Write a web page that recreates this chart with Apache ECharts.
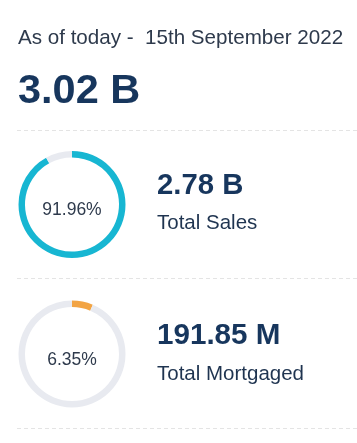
<!DOCTYPE html>
<html>
<head>
<meta charset="utf-8">
<script src="https://cdn.jsdelivr.net/npm/echarts@6/dist/echarts.min.js"></script>
<style>
html,body{margin:0;padding:0;background:#fff;}
#c{width:357px;height:443px;}
</style>
</head>
<body>
<div id="c"></div>
<script>
const headerText = "As of today -  15th September 2022";
const totalText = "3.02 B";
const itemLabels = ["Total Sales", "Total Mortgaged"];
const itemAmounts = ["2.78 B", "191.85 M"];
const itemPercents = [91.96, 6.35];
const itemColors = ["#17b6d2", "#f2a444"];
const trackColor = "#e8eaf0";

const FONT = '"Liberation Sans", Arial, sans-serif';
const rowTop = [204.5, 354];
const series = itemPercents.map((p, i) => ({
  type: 'pie',
  silent: true,
  radius: [47, 53.5],
  center: [72, rowTop[i]],
  startAngle: 90,
  clockwise: true,
  label: { show: false },
  labelLine: { show: false },
  emphasis: { disabled: true },
  data: [
    { value: p, itemStyle: { color: itemColors[i] } },
    { value: +(100 - p).toFixed(2), itemStyle: { color: trackColor } }
  ]
}));

function txt(x, y, s, size, weight, color, align) {
  return { type: 'text', x: x, y: y, silent: true,
    style: { text: s, fontSize: size, fontWeight: weight, fill: color,
      fontFamily: FONT, align: align || 'left', verticalAlign: 'middle' } };
}
function dash(y) {
  return { type: 'line', silent: true,
    shape: { x1: 17, y1: y, x2: 357, y2: y },
    style: { stroke: '#e4e4e4', lineWidth: 1, lineDash: [4, 3] } };
}

const graphic = [
  txt(18, 38, headerText, 20.6, 'normal', '#2e3a4c'),
  txt(18, 91.5, totalText, 41.5, 'bold', '#17365d'),
  dash(130.5),
  txt(157, 185.5, itemAmounts[0], 29.3, 'bold', '#17365d'),
  txt(157, 223.5, itemLabels[0], 20.5, 'normal', '#1f3450'),
  txt(72, 210.5, itemPercents[0].toFixed(2) + '%', 17.5, 'normal', '#2e3a4c', 'center'),
  dash(278.5),
  txt(157, 335.5, itemAmounts[1], 29.6, 'bold', '#17365d'),
  txt(157, 374, itemLabels[1], 20.5, 'normal', '#1f3450'),
  txt(72, 360, itemPercents[1].toFixed(2) + '%', 17.5, 'normal', '#2e3a4c', 'center'),
  dash(428.5)
];

const chart = echarts.init(document.getElementById('c'), null, { renderer: 'canvas' });
chart.setOption({
  animation: false,
  backgroundColor: '#ffffff',
  series: series,
  graphic: graphic
});
</script>
</body>
</html>
